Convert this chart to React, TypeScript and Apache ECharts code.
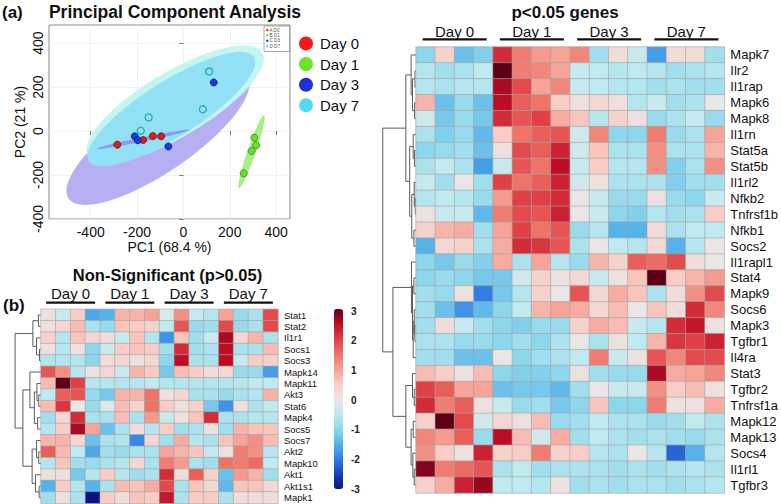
import React, { useEffect, useRef } from 'react';
import * as echarts from 'echarts';

// ---------------- PCA data ----------------
const PC_DAY0 = [[-285, -62], [-174, -41], [-132, -23], [-96, -24]];
const PC_DAY1 = [[306, -30], [314, -65], [294, -91], [260, -192]];
const PC_DAY3 = [[-210, -24], [-197, -42], [-65, -70], [131, 221]];
const PC_DAY7 = [[111, 271], [84, 99], [-150, 62], [-184, 1]];
const PC_TICKS = [-400, -200, 0, 200, 400];
// confidence ellipses: centre x, centre y, semi-major, semi-minor, angle (deg)
const ELLIPSES = [
  [-110, -30, 475, 155, 36],
  [-36, 122, 444, 145, 32.4],
  [-52, 100, 427, 125, 33.8],
  [-174, -38, 205, 10, 12.1],
  [294, -94, 175, 18, 71.9],
];
const ELLIPSE_COLORS = ['#b6b0f2', '#c3f6ef', '#93e1f6', '#8c9cf0', '#a8ee86'];
const DAYS = ['Day 0', 'Day 1', 'Day 3', 'Day 7'];
const MINI_LEGEND = ['A D0', 'B D1', 'C D3', 'D D7'];

// ---------------- heatmap data ----------------
const COLS = ['D0a', 'D0b', 'D0c', 'D0d', 'D1a', 'D1b', 'D1c', 'D1d', 'D3a', 'D3b', 'D3c', 'D3d', 'D7a', 'D7b', 'D7c', 'D7d'];
const BIG_ROWS = ['Mapk7', 'Ilr2', 'Il1rap', 'Mapk6', 'Mapk8', 'Il1rn', 'Stat5a', 'Stat5b', 'Il1rl2', 'Nfkb2', 'Tnfrsf1b', 'Nfkb1', 'Socs2', 'Il1rapl1', 'Stat4', 'Mapk9', 'Socs6', 'Mapk3', 'Tgfbr1', 'Il4ra', 'Stat3', 'Tgfbr2', 'Tnfrsf1a', 'Mapk12', 'Mapk13', 'Socs4', 'Il1rl1', 'Tgfbr3'];
const BIG_VALUES = [
  [-1.0, 0.4, -1.3, -1.1, 2.2, 1.4, 1.1, 1.0, 1.3, -0.8, 0.2, -0.4, -1.7, 0.2, 0.2, -0.8],
  [-0.6, -0.8, -0.7, -0.5, 3.0, 1.4, 1.3, 1.0, -0.4, -0.5, -0.6, -0.5, -0.6, -0.8, -0.7, -0.6],
  [-0.6, -0.7, -0.6, -0.6, 2.6, 1.9, 1.0, 1.3, -0.4, -0.5, -0.6, -0.6, -0.8, -0.7, -0.8, -0.8],
  [0.8, -1.3, -0.9, -1.3, 2.5, 1.7, 1.5, 0.5, 0.1, 0.3, 0.15, -0.6, -0.4, -0.8, -0.7, 0.0],
  [-0.3, -1.2, -0.9, -1.2, 2.2, 1.8, 2.0, 0.9, 0.6, -0.6, 0.4, 0.1, -0.9, -0.7, -0.4, -0.9],
  [-0.7, -1.1, -0.9, -1.4, 0.5, 1.5, 1.7, 1.8, -0.3, 1.3, -1.0, -1.0, 1.4, -0.9, -0.7, 1.0],
  [-1.0, -0.9, -0.8, -1.3, 0.1, 1.9, 1.7, 2.3, -0.3, 0.6, -0.7, -0.7, 1.2, -0.7, -0.7, 0.8],
  [-0.7, -0.4, -0.7, -1.7, -0.4, 1.8, 1.5, 2.5, -0.4, 0.5, -0.6, -0.6, 1.2, -1.1, -0.7, 1.2],
  [-0.4, -0.8, 0.0, -0.8, 2.0, 1.5, 1.7, 2.3, -0.3, 0.1, -0.7, -0.7, -0.7, -1.1, -0.8, -0.8],
  [-0.6, -0.5, -0.6, -0.9, 1.1, 2.0, 2.0, 2.2, 0.0, -0.4, -0.9, -0.9, 0.1, -0.9, -1.0, -0.4],
  [0.1, -0.4, -0.4, -1.4, 1.4, 1.9, 1.8, 2.3, 0.0, -0.4, -1.0, -1.1, -0.6, -0.8, -0.7, 0.5],
  [0.4, 0.8, 0.9, -0.8, 1.0, 2.0, 1.5, 1.8, -0.9, -0.6, -1.5, -1.5, 0.2, -0.7, -0.5, -0.5],
  [-1.5, 0.3, 0.4, -0.7, 0.9, 2.2, 2.1, 1.8, -0.7, 0.0, -0.5, -0.6, 0.3, -1.5, -0.6, 0.0],
  [-1.0, -1.2, -0.9, -1.1, 0.9, -0.7, 1.0, -0.6, -0.9, 0.8, 0.4, 1.7, 1.6, 1.9, 0.2, 0.0],
  [-1.0, -0.9, -1.0, -1.2, -1.2, -0.3, 0.4, 0.1, 0.3, -0.4, 0.1, 0.6, 3.0, 0.5, 0.8, 1.1],
  [-0.8, -0.9, 0.1, -2.0, -1.2, -0.6, 0.4, 0.0, 1.8, 0.3, 0.9, 0.6, -0.7, 0.2, 1.2, 1.9],
  [-0.8, -1.3, -1.8, -1.4, -1.0, -0.5, 0.8, 1.0, 0.9, 0.3, 0.7, 0.0, 0.6, 0.2, 2.2, 1.3],
  [-0.8, 0.2, -0.4, -0.8, -1.0, -1.1, -0.9, -0.9, 0.4, 0.9, 0.7, -0.4, -0.6, 2.2, 2.4, 0.1],
  [-0.7, -0.7, -0.9, -0.9, -1.0, -0.8, -1.0, -0.7, 0.0, -0.7, 0.1, -0.5, 0.8, 2.1, 2.0, 2.3],
  [-0.8, -0.8, -1.3, -1.3, 0.0, -1.0, -0.8, -0.7, -0.5, 1.4, -0.4, 0.1, 1.8, 1.3, 1.9, 1.9],
  [0.7, 0.5, 0.1, 0.7, -1.0, -1.1, -1.1, -1.0, 0.1, -0.8, -0.9, -0.9, 2.6, 0.9, 1.0, 1.3],
  [2.0, 1.7, 1.0, 1.0, -1.3, -1.2, -1.2, -1.4, -0.8, 0.0, -0.4, -0.4, 1.2, 0.5, 0.7, 0.1],
  [2.2, 1.4, 1.7, 0.1, -0.4, -0.9, -0.8, -1.2, -1.0, 0.6, -1.0, -1.0, 1.4, 0.1, 0.1, 0.9],
  [0.4, 3.0, 1.9, -0.3, 0.3, 0.1, 0.7, -0.9, -0.8, -0.5, -0.7, -0.7, -0.9, -0.8, -0.5, -0.7],
  [1.3, 1.1, 1.7, -0.9, 2.5, 0.7, -0.3, 0.9, -0.8, -0.5, -0.7, -0.8, -0.7, -0.8, -0.9, -0.7],
  [1.2, 0.5, 0.1, 2.3, 0.4, 0.5, 1.4, 0.4, 0.5, -0.6, -0.7, 0.0, -0.6, -2.2, -1.5, -0.6],
  [2.8, 1.4, 1.6, 1.8, -0.7, -0.5, -0.8, -0.7, -0.7, -0.7, -0.8, -0.7, -0.8, -0.7, -0.6, -0.7],
  [0.4, 0.9, 2.3, 2.7, -0.5, -0.5, -0.6, 0.1, -0.8, -0.7, -0.8, -0.7, -0.7, -0.8, -0.7, -0.6],
];
const SMALL_ROWS = ['Stat1', 'Stat2', 'Il1r1', 'Socs1', 'Socs3', 'Mapk14', 'Mapk11', 'Akt3', 'Stat6', 'Mapk4', 'Socs5', 'Socs7', 'Akt2', 'Mapk10', 'Akt1', 'Akt1s1', 'Mapk1'];
const SMALL_VALUES = [
  [0.1, -0.4, 0.5, -1.6, -1.5, 0.8, 0.8, 1.0, -0.2, 1.2, -0.4, -0.6, 1.0, -0.9, -0.7, 1.9],
  [0.1, 0.3, 0.7, -0.7, -0.9, 0.6, 0.5, 0.4, -0.5, 1.8, -0.9, -0.8, 1.9, -0.9, -0.7, 1.9],
  [0.4, -0.6, 0.6, 0.3, 0.2, -0.4, 0.6, -0.6, -1.8, 0.6, -0.8, -0.4, 2.6, 0.3, 0.8, -0.7],
  [0.1, -0.6, 0.1, -1.0, -0.4, 0.5, 0.6, 0.5, -0.8, 2.2, -0.8, -0.7, 2.5, -0.7, -0.7, 0.7],
  [-0.6, -0.6, -0.6, -1.0, 0.2, 0.3, 0.1, 0.3, -1.0, 2.5, -0.7, -0.7, 2.5, -0.4, 0.5, 0.4],
  [1.8, 1.2, -0.6, 0.1, 0.3, -0.4, 0.8, 0.5, -1.2, 0.7, 0.5, 0.2, 0.3, -0.9, -0.9, -1.7],
  [0.7, 3.0, 2.0, -0.6, -0.6, -0.6, -0.6, -0.5, -0.6, -0.6, -0.6, -0.6, -0.6, -0.6, -0.5, -0.5],
  [-0.5, 1.7, 1.8, -0.9, -1.2, 0.8, 0.8, 1.5, 0.1, 0.3, -0.7, -0.7, -0.9, -0.7, -0.6, 0.8],
  [0.7, 2.1, 0.0, -0.9, -0.2, 0.7, 0.4, 1.5, 0.5, 0.1, 0.4, -1.2, -1.8, 0.1, -0.7, -0.5],
  [-0.8, 0.3, 2.2, -0.7, -0.7, 0.7, -0.7, 1.1, -0.4, 0.1, 0.6, 2.2, -0.7, -0.7, -0.6, -0.6],
  [-0.6, 0.5, 2.6, 1.0, -1.3, -0.7, 0.2, -0.6, 0.5, -0.8, -0.7, 0.1, -0.8, 0.8, 0.6, 0.6],
  [0.8, 0.8, 0.3, -1.3, -0.7, -0.6, -1.9, 0.3, -0.8, 0.9, -0.6, -0.7, 0.6, 1.0, 1.2, 0.7],
  [1.7, 0.7, -0.5, -1.6, -0.8, -0.9, -0.7, -0.7, 1.0, 0.8, 0.6, -0.5, 0.1, 1.4, 1.2, -0.6],
  [-0.6, 0.6, -0.8, -0.9, -0.7, -0.6, 0.3, -0.7, 1.4, 1.1, -0.7, -0.8, 1.5, 1.4, 1.6, -0.5],
  [0.1, 0.1, -1.2, -0.6, 0.5, -0.6, -0.8, -0.7, 2.2, 0.2, 1.7, 0.4, -1.3, 1.1, 0.8, -0.8],
  [-1.5, 0.5, -0.6, -1.5, -0.7, 0.7, 0.6, 0.9, 1.9, -0.7, 0.6, 0.3, -1.4, 0.6, 0.6, 0.3],
  [-0.8, 0.1, -0.7, -3.0, 0.5, 0.2, 0.6, 0.5, 2.4, -0.7, 0.5, 0.5, -0.7, 0.2, 0.2, 0.2],
];
const COLORBAR_TICKS_MIN = -3;
const COLORBAR_TICKS_MAX = 3;
const HEAT_COLORS = ['#08137e', '#1842b8', '#2f7ee6', '#55b2ea', '#8dd7ec', '#bfeaf0', '#eae6e6', '#f9cdc6', '#f6a398', '#ee7468', '#e04046', '#bd0d26', '#5c0018'];

// dendrograms: [height, left, right]; leaves are row indices
type Tree = number | [number, Tree, Tree];
const BIG_TREE: Tree = [9.5,
  [2.9,
    [1.4, 0, [1.0, [0.3, 1, 2], [0.4, 3, 4]]],
    [1.8, [0.8, 5, [0.4, 6, 7]], [1.2, [0.5, 8, [0.2, 9, 10]], [0.6, 11, 12]]]],
  [6.6,
    [1.3, 13, [1.0, [0.6, 14, 15], [0.8, [0.5, 16, [0.3, 17, 18]], 19]]],
    [2.9, [1.0, 20, [0.5, 21, 22]], [1.4, [0.8, 23, 24], [0.9, 25, [0.5, 26, 27]]]]]];
const SMALL_TREE: Tree = [7.0,
  [2.2, [0.7, 0, 1], [1.2, 2, [0.4, 3, 4]]],
  [4.9,
    [3.0, 5, [1.8, [1.1, 6, [0.6, 7, 8]], [0.9, 9, 10]]],
    [2.4, [1.2, 11, [0.6, 12, 13]], [1.5, 14, [0.5, 15, 16]]]]];

function treeSegments(t: Tree, out: number[][]): [number, number] {
  if (typeof t === 'number') return [t, 0];
  const [h, l, r] = t;
  const [p1, h1] = treeSegments(l, out);
  const [p2, h2] = treeSegments(r, out);
  out.push([p1, h1, p2, h2, h]);
  return [(p1 + p2) / 2, h];
}

const FONT = 'Liberation Sans, Arial, Helvetica, sans-serif';

// layout
const BIG = { left: 416, top: 47, width: 309, height: 446 };
const SMALL = { left: 41, top: 309.3, width: 237, height: 194 };

function heatData(values: number[][]) {
  const d: number[][] = [];
  values.forEach((row, r) => row.forEach((v, c) => d.push([c, r, v])));
  return d;
}

function buildOption() {
  const bigSegs: number[][] = [];
  treeSegments(BIG_TREE, bigSegs);
  const smallSegs: number[][] = [];
  treeSegments(SMALL_TREE, smallSegs);

  const dendroRender = (params: any, api: any) => {
    const p1 = api.value(0), h1 = api.value(1), p2 = api.value(2), h2 = api.value(3), h = api.value(4);
    return {
      type: 'polyline',
      shape: { points: [api.coord([h1, p1]), api.coord([h, p1]), api.coord([h, p2]), api.coord([h2, p2])] },
      style: { stroke: '#4a4a4a', lineWidth: 0.9, fill: null },
    };
  };

  const ellipseRender = (params: any, api: any) => {
    const cx = api.value(0), cy = api.value(1), a = api.value(2), b = api.value(3);
    const ang = (api.value(4) * Math.PI) / 180;
    const pts: number[][] = [];
    const n = 120;
    for (let i = 0; i < n; i++) {
      const t = (i / n) * Math.PI * 2;
      const x = cx + a * Math.cos(ang) * Math.cos(t) - b * Math.sin(ang) * Math.sin(t);
      const y = cy + a * Math.sin(ang) * Math.cos(t) + b * Math.cos(ang) * Math.sin(t);
      pts.push(api.coord([x, y]));
    }
    return { type: 'polygon', shape: { points: pts }, style: { fill: ELLIPSE_COLORS[params.dataIndex], stroke: null } };
  };

  const graphics: any[] = [];
  const txt = (text: string, x: number, y: number, size: number, weight: string, align = 'center') => ({
    type: 'text', x, y, z: 100,
    style: { text, fontSize: size, fontWeight: weight, fontFamily: FONT, fill: '#111', textAlign: align, textVerticalAlign: 'middle', verticalAlign: 'middle' },
  });
  graphics.push(txt('(a)', 2, 12, 17, 'bold', 'left'));
  graphics.push(txt('Principal Component Analysis', 175, 12, 17.5, 'bold'));
  graphics.push(txt('p<0.05 genes', 565, 12, 17, 'bold'));
  graphics.push(txt('Non-Significant (p>0.05)', 167.5, 275, 16.5, 'bold'));
  graphics.push(txt('(b)', 3, 305, 17, 'bold', 'left'));
  DAYS.forEach((d, g) => {
    const cb = BIG.left + (BIG.width / 4) * (g + 0.5);
    graphics.push(txt(d, cb, 31.5, 15, 'normal'));
    graphics.push({ type: 'rect', z: 100, shape: { x: cb - 32, y: 38.2, width: 64, height: 2.2 }, style: { fill: '#111' } });
    const cs = SMALL.left + (SMALL.width / 4) * (g + 0.5);
    graphics.push(txt(d, cs, 293, 15, 'normal'));
    graphics.push({ type: 'rect', z: 100, shape: { x: cs - 24.5, y: 301.6, width: 49, height: 2.2 }, style: { fill: '#111' } });
  });
  // small legend box inside the PCA panel
  graphics.push({ type: 'rect', z: 100, shape: { x: 264, y: 26, width: 25.5, height: 25.5 }, style: { fill: '#fff', stroke: '#777', lineWidth: 0.6 } });
  const miniColors = ['#d61f1f', '#6fdc2c', '#1d3ad6', '#55d9f2'];
  MINI_LEGEND.forEach((t, i) => {
    const y = 30 + i * 5.4;
    graphics.push({ type: 'circle', z: 101, shape: { cx: 267.3, cy: y, r: 1.2 }, style: { fill: miniColors[i] } });
    graphics.push({ type: 'text', z: 101, x: 269.5, y, style: { text: t, fontSize: 4.6, fontFamily: FONT, fill: '#555', textAlign: 'left', textVerticalAlign: 'middle', verticalAlign: 'middle' } });
  });

  const scatter = (name: string, data: number[][], color: string, border: string, bw: number) => ({
    name, type: 'scatter', xAxisIndex: 0, yAxisIndex: 0, data, symbolSize: 7, z: 3,
    itemStyle: { color, borderColor: border, borderWidth: bw, opacity: 1 },
    emphasis: { disabled: true },
  });

  return {
    animation: false,
    backgroundColor: '#fff',
    textStyle: { fontFamily: FONT },
    graphic: graphics,
    legend: {
      show: true, orient: 'vertical', left: 299, top: 36, itemWidth: 14, itemHeight: 14, itemGap: 5.6,
      icon: 'circle', selectedMode: false, padding: 0,
      textStyle: { fontSize: 15, color: '#111', fontFamily: FONT, padding: [0, 0, 0, 2] },
      data: [
        { name: 'Day 0', itemStyle: { color: '#f21b1b', borderWidth: 0 } },
        { name: 'Day 1', itemStyle: { color: '#6ee22a', borderWidth: 0 } },
        { name: 'Day 3', itemStyle: { color: '#2030d8', borderWidth: 0 } },
        { name: 'Day 7', itemStyle: { color: '#55d9f2', borderWidth: 0 } },
      ],
    },
    visualMap: {
      type: 'continuous', min: COLORBAR_TICKS_MIN, max: COLORBAR_TICKS_MAX, seriesIndex: [6, 8], dimension: 2,
      calculable: false, orient: 'vertical', left: 334, top: 309, itemWidth: 9, itemHeight: 180, padding: 0,
      hoverLink: false, inRange: { color: HEAT_COLORS },
    },
    grid: [
      { left: 49, top: 25, width: 241, height: 194, show: true, borderColor: '#8a8a8a', borderWidth: 1, backgroundColor: '#fff' },
      { left: 381, top: BIG.top, width: 35, height: BIG.height },
      { left: BIG.left, top: BIG.top, width: BIG.width, height: BIG.height },
      { left: 4, top: SMALL.top, width: 37, height: SMALL.height },
      { left: SMALL.left, top: SMALL.top, width: SMALL.width, height: SMALL.height },
      { left: 334, top: 311, width: 9, height: 178 },
    ],
    xAxis: [
      {
        gridIndex: 0, type: 'value', min: -580, max: 460,
        axisLine: { show: false },
        axisTick: { show: true, customValues: PC_TICKS, length: 4, lineStyle: { color: '#777' } },
        axisLabel: { customValues: PC_TICKS, fontSize: 14, color: '#111', margin: 6 },
        splitLine: { show: true, lineStyle: { color: '#ececec', width: 0.8 } },
        name: 'PC1 (68.4 %)', nameLocation: 'middle', nameGap: 21, nameTextStyle: { fontSize: 14, color: '#111' },
      },
      { gridIndex: 1, type: 'value', min: 0, max: 10, inverse: true, show: false },
      { gridIndex: 2, type: 'category', data: COLS, show: false },
      { gridIndex: 3, type: 'value', min: 0, max: 10, inverse: true, show: false },
      { gridIndex: 4, type: 'category', data: COLS, show: false },
      { gridIndex: 5, type: 'value', min: 0, max: 1, show: false },
    ],
    yAxis: [
      {
        gridIndex: 0, type: 'value', min: -400, max: 482,
        axisLine: { show: false },
        axisTick: { show: true, customValues: PC_TICKS, length: 4, lineStyle: { color: '#777' } },
        axisLabel: { customValues: PC_TICKS, rotate: 90, fontSize: 14, color: '#111', margin: 4 },
        splitLine: { show: true, lineStyle: { color: '#ececec', width: 0.8 } },
        name: 'PC2 (21 %)', nameLocation: 'middle', nameGap: 22, nameTextStyle: { fontSize: 14, color: '#111' },
      },
      { gridIndex: 1, type: 'value', min: -0.5, max: BIG_ROWS.length - 0.5, inverse: true, show: false },
      {
        gridIndex: 2, type: 'category', data: BIG_ROWS, inverse: true, position: 'right',
        axisLine: { show: false }, axisTick: { show: false },
        axisLabel: { fontSize: 13, color: '#111', margin: 6, interval: 0 },
      },
      { gridIndex: 3, type: 'value', min: -0.5, max: SMALL_ROWS.length - 0.5, inverse: true, show: false },
      {
        gridIndex: 4, type: 'category', data: SMALL_ROWS, inverse: true, position: 'right',
        axisLine: { show: false }, axisTick: { show: false },
        axisLabel: { fontSize: 9.5, color: '#111', margin: 6, interval: 0 },
      },
      {
        gridIndex: 5, type: 'value', min: COLORBAR_TICKS_MIN, max: COLORBAR_TICKS_MAX, interval: 1, position: 'right',
        axisLine: { show: false }, axisTick: { show: false }, splitLine: { show: false },
        axisLabel: { fontSize: 10, fontWeight: 'bold', color: '#222', margin: 8 },
      },
    ],
    series: [
      {
        name: 'ellipses', type: 'custom', xAxisIndex: 0, yAxisIndex: 0, data: ELLIPSES, renderItem: ellipseRender,
        clip: true, z: 1, silent: true,
      },
      scatter('Day 0', PC_DAY0, '#d61f1f', '#7a0f0f', 0.8),
      scatter('Day 1', PC_DAY1, '#6fdc2c', '#2f8a1a', 0.8),
      scatter('Day 3', PC_DAY3, '#1d3ad6', '#0a1a80', 0.8),
      scatter('Day 7', PC_DAY7, 'rgba(0,0,0,0)', '#1fa89a', 1.2),
      {
        name: 'bigDendro', type: 'custom', xAxisIndex: 1, yAxisIndex: 1, data: bigSegs, renderItem: dendroRender,
        clip: false, silent: true,
      },
      {
        name: 'bigHeat', type: 'heatmap', xAxisIndex: 2, yAxisIndex: 2, data: heatData(BIG_VALUES),
        itemStyle: { borderColor: '#a4a4a4', borderWidth: 0.6 }, emphasis: { disabled: true }, silent: true,
      },
      {
        name: 'smallDendro', type: 'custom', xAxisIndex: 3, yAxisIndex: 3, data: smallSegs, renderItem: dendroRender,
        clip: false, silent: true,
      },
      {
        name: 'smallHeat', type: 'heatmap', xAxisIndex: 4, yAxisIndex: 4, data: heatData(SMALL_VALUES),
        itemStyle: { borderColor: '#a4a4a4', borderWidth: 0.6 }, emphasis: { disabled: true }, silent: true,
      },
      { name: 'cbar', type: 'scatter', xAxisIndex: 5, yAxisIndex: 5, data: [], silent: true },
    ],
  };
}

export default function App() {
  const ref = useRef<HTMLDivElement>(null);
  useEffect(() => {
    if (!ref.current) return;
    const chart = echarts.init(ref.current, null, { renderer: 'svg' });
    chart.setOption(buildOption() as any);
    return () => chart.dispose();
  }, []);
  return (
    <div
      ref={ref}
      style={{ position: 'fixed', left: 0, top: 0, width: 781, height: 504, background: '#fff' }}
    />
  );
}
